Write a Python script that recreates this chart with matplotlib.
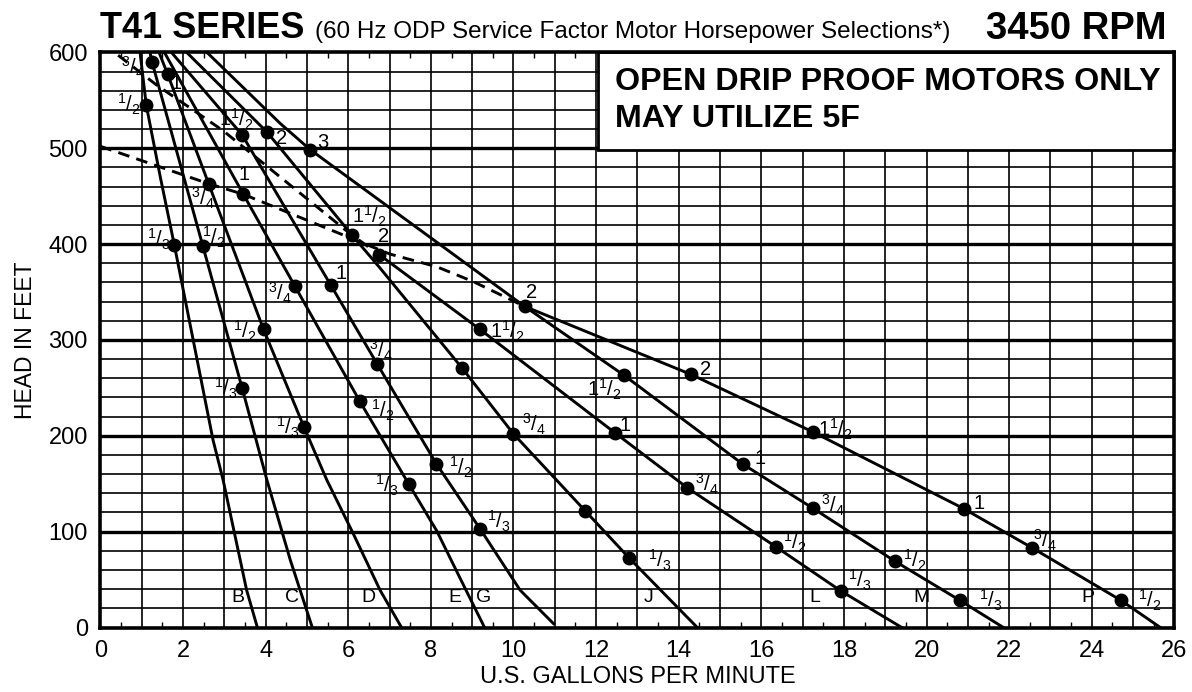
import matplotlib
matplotlib.use("Agg")
import matplotlib.pyplot as plt
from matplotlib.patches import Rectangle

plt.rcParams['font.family'] = ['Liberation Sans', 'DejaVu Sans']
plt.rcParams['mathtext.fontset'] = 'custom'
plt.rcParams['mathtext.rm'] = 'Liberation Sans'
plt.rcParams['mathtext.it'] = 'Liberation Sans'
plt.rcParams['mathtext.bf'] = 'Liberation Sans:bold'

# ---------------- data (GPM, head ft) ----------------
curve_B_q = [0.96, 1.11, 1.45, 1.79, 2.73, 2.97, 3.54, 3.80]
curve_B_h = [600, 545, 470, 399, 195, 154, 39, 0]
curve_C_q = [1.20, 1.25, 2.48, 3.43, 4.03, 4.60, 5.13]
curve_C_h = [600, 590, 398, 250, 154, 70, 0]
curve_D_q = [1.42, 1.63, 2.62, 3.95, 4.93, 5.48, 6.12, 6.77, 7.29]
curve_D_h = [600, 577, 463, 311, 209, 154, 98, 39, 0]
curve_E_q = [1.55, 3.46, 4.71, 6.28, 7.46, 8.14, 8.85, 9.30]
curve_E_h = [600, 452, 356, 236, 150, 101, 39, 0]
curve_G_q = [1.72, 3.43, 5.58, 6.70, 8.13, 9.19, 10.16, 10.97]
curve_G_h = [600, 514, 357, 275, 171, 103, 39, 4]
curve_J_q = [2.09, 4.03, 6.08, 6.77, 8.75, 10.00, 11.73, 12.80, 14.45]
curve_J_h = [600, 517, 410, 375, 271, 202, 122, 72.5, 0]
curve_L_dash_q = [0.43, 1.36, 2.41, 2.98, 6.04, 6.75]
curve_L_dash_h = [597, 566, 535, 518, 411, 389]
curve_L_q = [6.75, 9.19, 12.46, 14.20, 16.36, 17.93, 19.40]
curve_L_h = [389, 311, 203, 146, 84, 38, 0]
curve_M_q = [2.58, 4.35, 5.08, 7.00, 10.27, 12.68, 15.55, 17.25, 19.24, 20.80, 21.86]
curve_M_h = [600, 526, 498.5, 438, 335, 263, 170.5, 124.4, 69, 28.5, 0]
curve_P_dash_q = [0.0, 2.62, 3.46, 7.01, 8.14, 9.03, 10.27]
curve_P_dash_h = [502, 463, 452, 389.6, 376.4, 360.8, 335]
curve_P_q = [10.27, 14.30, 17.25, 20.90, 22.56, 24.70, 25.66]
curve_P_h = [335, 264, 204, 124, 83, 28.5, 0]

# horsepower selection points: (gpm, head, label)
dot_q = [1.11, 1.79, 1.25, 2.48, 3.43, 1.63, 2.62, 3.95, 4.93,
         3.46, 4.71, 6.28, 7.46, 3.43, 5.58, 6.70, 8.13, 9.19,
         4.03, 6.08, 8.75, 10.00, 11.73, 12.80,
         6.75, 9.19, 12.46, 14.20, 16.36, 17.93,
         5.08, 10.27, 12.68, 15.55, 17.25, 19.24, 20.80,
         14.30, 17.25, 20.90, 22.56, 24.70]
dot_h = [545, 399, 590, 398, 250, 577, 463, 311, 209,
         452, 356, 236, 150, 514, 357, 275, 171, 103,
         517, 410, 271, 202, 122, 72.5,
         389, 311, 203, 146, 84, 38,
         498.5, 335, 263, 170.5, 124.4, 69, 28.5,
         264, 204, 124, 83, 28.5]
H = r'$^1/_2$'; T = r'$^1/_3$'; Q = r'$^3/_4$'; OH = r'$1^1/_2$'
dot_lab = [H, T, Q, H, T, '1', Q, H, T,
           '1', Q, H, T, OH, '1', Q, H, T,
           '2', OH, '', Q, '', T,
           '2', OH, '1', Q, H, T,
           '3', '2', OH, '1', Q, H, T,
           '2', OH, '1', Q, H]
# label offsets in pixels (dx right, dy up) relative to dot, and alignment
lab_off = [(-6, 1), (-4, 6), (-7, -5), (-1, 9), (-5, -1), (8, -9), (-6, -15), (-7, -2), (-5, 0),
           (1, 20), (-3, -7), (11, -9), (-10, -2), (-6, 15), (10, 12), (4, 14), (13, -4), (7, 7),
           (15, -7), (0, 18), (0, 0), (9, 9), (0, 0), (19, -2),
           (4, 18), (10, -2), (10, 7), (8, 3), (7, 5), (7, 11),
           (13, 7), (7, 14), (-3, -14), (17, 6), (8, 3), (8, 1), (19, 0),
           (14, 5), (5, 3), (15, 5), (1, 8), (17, 0)]
lab_ha = ['right', 'right', 'right', 'left', 'right', 'center', 'center', 'right', 'right',
          'center', 'right', 'left', 'right', 'center', 'center', 'center', 'left', 'left',
          'center', 'left', 'left', 'left', 'left', 'left',
          'center', 'left', 'center', 'left', 'left', 'left',
          'center', 'center', 'right', 'center', 'left', 'left', 'left',
          'center', 'left', 'center', 'left', 'left']

curve_names = ['B', 'C', 'D', 'E', 'G', 'J', 'L', 'M', 'P']
name_q = [3.32, 4.65, 6.48, 8.59, 9.27, 13.26, 17.30, 19.87, 23.90]
name_h = [31, 31, 31, 31, 31, 31, 31, 31, 31]

x_ticks = list(range(0, 27, 2))
y_ticks = list(range(0, 601, 100))

# ---------------- figure ----------------
fig = plt.figure(figsize=(11.92, 6.92), dpi=100)
ax = fig.add_axes([100.4 / 1192, 1 - 627.5 / 692, 1074 / 1192, 575.1 / 692])
ax.set_xlim(0, 26)
ax.set_ylim(0, 600)

# grid
for gx in range(1, 26):
    ax.axvline(gx, color='black', lw=1.2, zorder=1)
for gy in range(20, 600, 20):
    ax.axhline(gy, color='black', lw=2.4 if gy % 100 == 0 else 1.2, zorder=1)

lw = 2.1
dash = (0, (4, 2.5))
ax.plot(curve_B_q, curve_B_h, color='black', lw=lw, zorder=2)
ax.plot(curve_C_q, curve_C_h, color='black', lw=lw, zorder=2)
ax.plot(curve_D_q, curve_D_h, color='black', lw=lw, zorder=2)
ax.plot(curve_E_q, curve_E_h, color='black', lw=lw, zorder=2)
ax.plot(curve_G_q, curve_G_h, color='black', lw=lw, zorder=2)
ax.plot(curve_J_q, curve_J_h, color='black', lw=lw, zorder=2)
ax.plot(curve_L_dash_q, curve_L_dash_h, color='black', lw=lw, ls=dash, zorder=2)
ax.plot(curve_L_q, curve_L_h, color='black', lw=lw, zorder=2)
ax.plot(curve_M_q, curve_M_h, color='black', lw=lw, zorder=2)
ax.plot(curve_P_dash_q, curve_P_dash_h, color='black', lw=lw, ls=dash, zorder=2)
ax.plot(curve_P_q, curve_P_h, color='black', lw=lw, zorder=2)

ax.plot(dot_q, dot_h, 'o', color='black', ms=9, zorder=3, clip_on=False)

for q, h, t, off, ha in zip(dot_q, dot_h, dot_lab, lab_off, lab_ha):
    if t:
        ax.annotate(t, (q, h), xytext=(off[0] * 0.72, off[1] * 0.72), textcoords='offset points',
                    ha=ha, va='center', fontsize=14.5, zorder=4)

for n, q, h in zip(curve_names, name_q, name_h):
    ax.text(q, h, n, ha='center', va='center', fontsize=14, zorder=4)

# white note box
ax.add_patch(Rectangle((12.05, 498), 26 - 12.05, 102, facecolor='white', edgecolor='black',
                       lw=2.0, zorder=5, clip_on=False))
ax.text(12.45, 569, 'OPEN DRIP PROOF MOTORS ONLY', fontsize=23.2, fontweight='bold',
        ha='left', va='center', zorder=6)
ax.text(12.45, 530, 'MAY UTILIZE 5F', fontsize=23.2, fontweight='bold',
        ha='left', va='center', zorder=6)

# axes / ticks
ax.set_xticks(x_ticks)
ax.set_yticks(y_ticks)
ax.tick_params(axis='both', which='major', length=0, labelsize=17, pad=9)
ax.set_xticks([i + 0.5 for i in range(26)], minor=True)
ax.tick_params(axis='x', which='minor', direction='in', length=4, width=1.0, top=True)
for s in ax.spines.values():
    s.set_linewidth(2.6)
    s.set_zorder(7)

ax.set_xlabel('U.S. GALLONS PER MINUTE', fontsize=17, labelpad=3)
ax.set_ylabel('HEAD IN FEET', fontsize=16.5, labelpad=8)

fig.text(100 / 1192, 1 - 29 / 692, 'T41 SERIES', fontsize=26, fontweight='bold', ha='left', va='center')
fig.text(315 / 1192, 1 - 32 / 692, '(60 Hz ODP Service Factor Motor Horsepower Selections*)',
         fontsize=17.5, ha='left', va='center')
fig.text(1166 / 1192, 1 - 29 / 692, '3450 RPM', fontsize=27.5, fontweight='bold', ha='right', va='center')

fig.savefig('out.png', dpi=100)
